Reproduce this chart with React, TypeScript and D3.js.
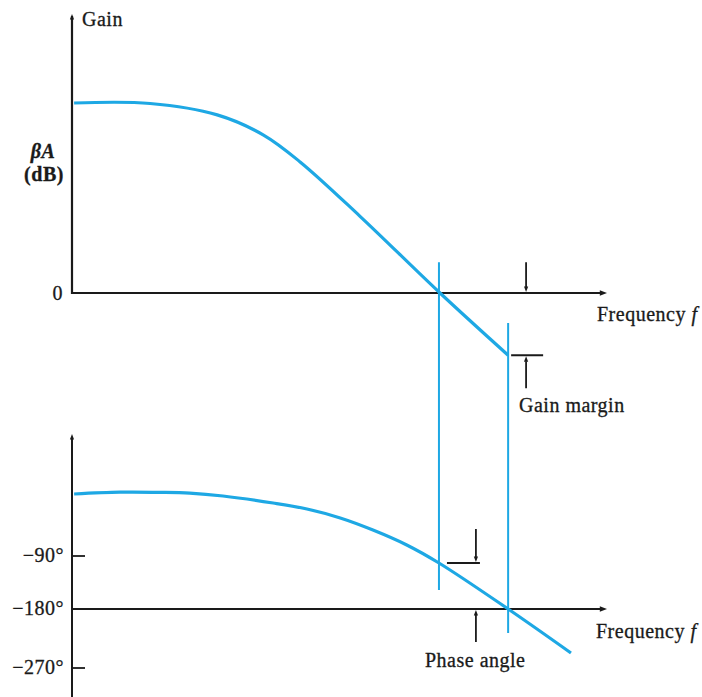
import React from "react";
import * as d3 from "d3";

// ---- Data (frequency in arbitrary linear units, gain in dB, phase in degrees) ----
const gainFreq = [0.4, 14.8, 27.5, 36.2, 43.2, 54.5, 69.7, 82.6];
const gainDb = [40, 39.9, 37.5, 33.3, 27.6, 16.2, 0, -13.1];

const phaseFreq = [0.4, 9.1, 16.7, 22.3, 28.6, 38.1, 44.5, 50.8, 57.0, 63.4, 69.5, 82.6, 94.5];
const phaseDeg = [0, 2.6, 2.4, 1.3, -2.9, -13.1, -21.8, -34.8, -52.3, -74.0, -101.9, -180, -247.1];

const phaseTicks = [-90, -180, -270];
const phaseTickLabels = ["\u221290\u00b0", "\u2212180\u00b0", "\u2212270\u00b0"];

const fGainCross = 69.5; // gain crossover (0 dB)
const fPhaseCross = 82.6; // -180° frequency
const fGainArrow = 86;
const fPhaseArrow = 76.5;

const BLUE = "#1ea8e4";
const INK = "#1a1a1a";
const FONT = "'Liberation Serif', 'Times New Roman', serif";

export default function App() {
  const W = 702;
  const H = 697;

  const x = d3.scaleLinear().domain([0, 100]).range([72, 600]);
  const yGain = d3.scaleLinear().domain([0, 40]).range([293, 103]);
  const yPhase = d3
    .scaleLinear()
    .domain([-270, -180, -90, 0])
    .range([668, 609, 556, 494]);

  const gainPts: [number, number][] = gainFreq.map((f, i) => [f, gainDb[i]]);
  const phasePts: [number, number][] = phaseFreq.map((f, i) => [f, phaseDeg[i]]);

  const gainLine = d3
    .line<[number, number]>()
    .x((d) => x(d[0]))
    .y((d) => yGain(d[1]))
    .curve(d3.curveCatmullRom.alpha(0.5));
  const phaseLine = d3
    .line<[number, number]>()
    .x((d) => x(d[0]))
    .y((d) => yPhase(d[1]))
    .curve(d3.curveCatmullRom.alpha(0.5));

  const axisX = x(0);
  const gainZeroY = yGain(0);
  const phase180Y = yPhase(-180);
  const axisEnd = 607;

  const gainMarginDb = gainDb[gainDb.length - 1];
  const phaseAtCross = phaseDeg[phaseFreq.indexOf(fGainCross)];

  // arrowhead helpers
  const arrowDown = (ax: number, ay: number, s = 5) =>
    `${ax},${ay} ${ax - s * 0.6},${ay - s * 1.6} ${ax + s * 0.6},${ay - s * 1.6}`;
  const arrowUp = (ax: number, ay: number, s = 5) =>
    `${ax},${ay} ${ax - s * 0.6},${ay + s * 1.6} ${ax + s * 0.6},${ay + s * 1.6}`;
  const arrowRight = (ax: number, ay: number, s = 5) =>
    `${ax},${ay} ${ax - s * 1.8},${ay - s * 0.7} ${ax - s * 1.8},${ay + s * 0.7}`;

  const gxArrow = x(fGainArrow);
  const pxArrow = x(fPhaseArrow);
  const gmY = yGain(gainMarginDb);
  const paY = yPhase(phaseAtCross);

  const textStyle: React.CSSProperties = {
    fontFamily: FONT,
    fontSize: 20,
    letterSpacing: 0.5,
    fill: INK,
    stroke: INK,
    strokeWidth: 0.3,
  };

  return (
    <svg
      width={W}
      height={H}
      style={{ position: "absolute", left: 0, top: 0, background: "#fff" }}
    >
      {/* ---------- Top panel: Gain ---------- */}
      <line x1={axisX} y1={16} x2={axisX} y2={gainZeroY + 1} stroke={INK} strokeWidth={2.2} />
      <polygon points={arrowUp(axisX, 14, 3.5)} fill={INK} />
      <line x1={axisX - 1} y1={gainZeroY} x2={axisEnd - 5} y2={gainZeroY} stroke={INK} strokeWidth={2.2} />
      <polygon points={arrowRight(axisEnd, gainZeroY, 4)} fill={INK} />

      <text x={82} y={26} style={textStyle}>Gain</text>
      <text x={43} y={158} textAnchor="middle" style={{ ...textStyle, fontStyle: "italic", fontWeight: 700 }}>
        βA
      </text>
      <text x={44} y={181} textAnchor="middle" style={{ ...textStyle, fontWeight: 700 }}>
        (dB)
      </text>
      <text x={63} y={300} textAnchor="end" style={textStyle}>0</text>
      <text x={597} y={321} style={textStyle}>
        Frequency <tspan fontStyle="italic">f</tspan>
      </text>

      <path d={gainLine(gainPts) || ""} fill="none" stroke={BLUE} strokeWidth={3.2} />

      {/* gain arrow (down onto 0 dB line) */}
      <line x1={gxArrow} y1={yGain(6.5)} x2={gxArrow} y2={gainZeroY - 6} stroke={INK} strokeWidth={1.8} />
      <polygon points={arrowDown(gxArrow, gainZeroY - 1, 3.5)} fill={INK} />

      {/* gain margin marker */}
      <line x1={x(fPhaseCross) + 3} y1={gmY} x2={x(fPhaseCross) + 35} y2={gmY} stroke={INK} strokeWidth={1.8} />
      <line x1={gxArrow} y1={gmY + 33} x2={gxArrow} y2={gmY + 6} stroke={INK} strokeWidth={1.8} />
      <polygon points={arrowUp(gxArrow, gmY + 1, 3.5)} fill={INK} />
      <text x={519} y={412} style={textStyle}>Gain margin</text>

      {/* ---------- Bottom panel: Phase ---------- */}
      <line x1={axisX} y1={437} x2={axisX} y2={H} stroke={INK} strokeWidth={2} />
      <polygon points={arrowUp(axisX, 434, 3.5)} fill={INK} />
      {phaseTicks.map((t, i) =>
        t === -180 ? null : (
          <line key={"tk" + i} x1={axisX} y1={yPhase(t)} x2={axisX + 13} y2={yPhase(t)} stroke={INK} strokeWidth={1.8} />
        )
      )}
      {phaseTicks.map((t, i) => (
        <text key={"tl" + i} x={64} y={yPhase(t) + 6} textAnchor="end" style={textStyle}>
          {phaseTickLabels[i]}
        </text>
      ))}
      <line x1={axisX - 1} y1={phase180Y} x2={axisEnd - 5} y2={phase180Y} stroke={INK} strokeWidth={2} />
      <polygon points={arrowRight(axisEnd, phase180Y, 4)} fill={INK} />
      <text x={596} y={638} style={textStyle}>
        Frequency <tspan fontStyle="italic">f</tspan>
      </text>

      <path d={phaseLine(phasePts) || ""} fill="none" stroke={BLUE} strokeWidth={3.2} />

      {/* phase angle markers */}
      <line x1={x(fGainCross) + 8} y1={paY} x2={pxArrow + 4} y2={paY} stroke={INK} strokeWidth={1.8} />
      <line x1={pxArrow} y1={paY - 34} x2={pxArrow} y2={paY - 6} stroke={INK} strokeWidth={1.8} />
      <polygon points={arrowDown(pxArrow, paY - 1, 3.5)} fill={INK} />
      <line x1={pxArrow} y1={phase180Y + 33} x2={pxArrow} y2={phase180Y + 6} stroke={INK} strokeWidth={1.8} />
      <polygon points={arrowUp(pxArrow, phase180Y + 1, 3.5)} fill={INK} />
      <text x={425} y={667} style={textStyle}>Phase angle</text>

      {/* ---------- Vertical crossover lines ---------- */}
      <line x1={x(fGainCross)} y1={yGain(6.5)} x2={x(fGainCross)} y2={yPhase(-147.7)} stroke={BLUE} strokeWidth={2} />
      <line x1={x(fPhaseCross)} y1={yGain(-6.3)} x2={x(fPhaseCross)} y2={yPhase(-216.6)} stroke={BLUE} strokeWidth={2} />
    </svg>
  );
}
